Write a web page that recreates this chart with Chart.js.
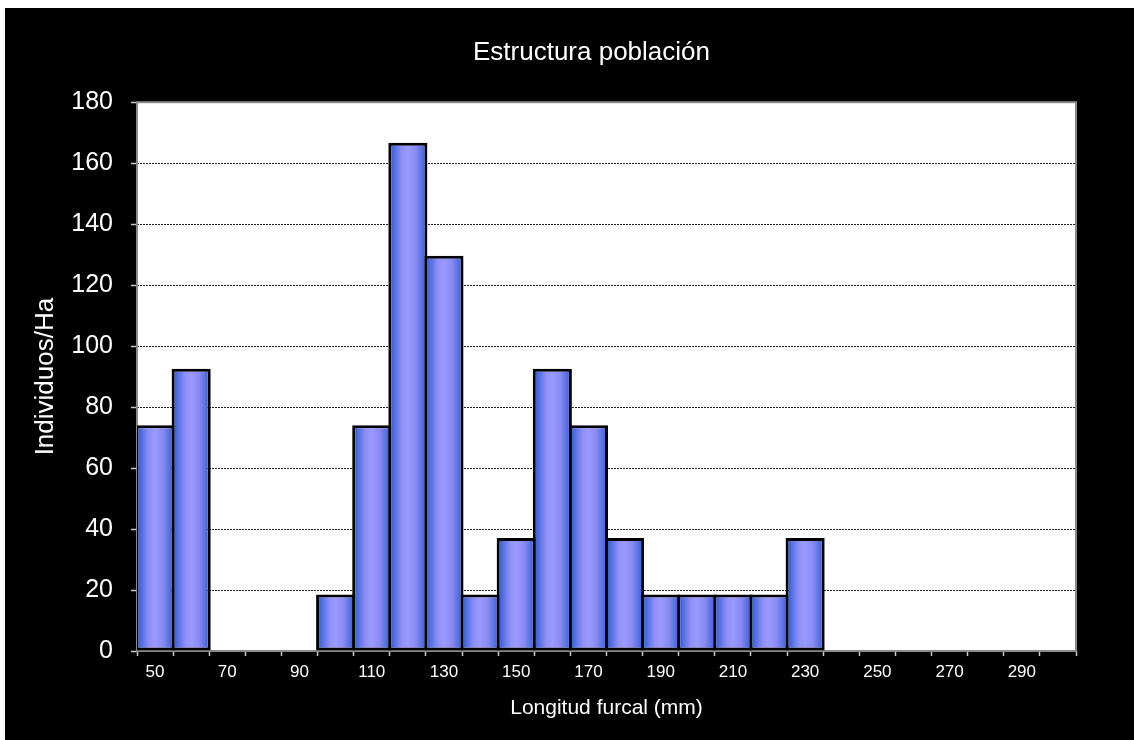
<!DOCTYPE html>
<html lang="es">
<head>
<meta charset="utf-8">
<title>Estructura población</title>
<script src="https://cdn.jsdelivr.net/npm/chart.js@4.4.0/dist/chart.umd.min.js"></script>
<style>
  html, body { margin: 0; padding: 0; background: #fff; }
  #chartBox {
    position: absolute;
    left: 5px;
    top: 8px;
    width: 1129px;
    height: 732px;
    background: #000;
  }
</style>
</head>
<body>
<div id="chartBox"><canvas id="poblacionChart"></canvas></div>
<script>
// ===== DATOS =====
const categories = ['50', '60', '70', '80', '90', '100', '110', '120', '130', '140', '150', '160', '170',
  '180', '190', '200', '210', '220', '230', '240', '250', '260', '270', '280', '290', '300'];
const individuosHa = [74.07, 92.59, 0, 0, 0, 18.52, 74.07, 166.67, 129.63, 18.52, 37.04, 92.59, 74.07,
  37.04, 18.52, 18.52, 18.52, 18.52, 37.04, 0, 0, 0, 0, 0, 0, 0];
const yTicks = [0, 20, 40, 60, 80, 100, 120, 140, 160, 180];

const FONT = 'Arial, "Liberation Sans", sans-serif';

class EstructuraPoblacion {
  constructor() {
    this.chart = null;
    this.init();
  }

  init() {
    const ctx = document.getElementById('poblacionChart').getContext('2d');
    this.chart = new Chart(ctx, {
      type: 'bar',
      data: {
        labels: categories,
        datasets: [{
          label: 'Individuos/Ha',
          data: individuosHa,
          yAxisID: 'y',
          backgroundColor: (c) => this.barGradient(c),
          borderColor: '#000',
          borderWidth: (c) => (c.raw > 0 ? 3 : 0),
          borderSkipped: false,
          barPercentage: 1.083,
          categoryPercentage: 1
        }]
      },
      options: {
        responsive: true,
        maintainAspectRatio: false,
        animation: false,
        layout: { padding: { left: 60, right: 16, top: 0, bottom: 15 } },
        plugins: {
          legend: { display: false },
          tooltip: { enabled: false },
          title: {
            display: true,
            text: 'Estructura población',
            color: '#fff',
            font: { family: FONT, size: 26, weight: 'normal' },
            padding: { top: 29, bottom: 34 }
          }
        },
        scales: {
          x: {
            offset: true,
            grid: { display: true, drawOnChartArea: false, tickLength: 5, tickColor: '#c8c8c8', tickWidth: 1.5 },
            border: { display: false },
            ticks: {
              color: '#fff',
              font: { family: FONT, size: 17 },
              padding: 6,
              autoSkip: false,
              maxRotation: 0,
              callback: (val, index) => (index % 2 === 0 ? categories[index] : '')
            },
            title: {
              display: true,
              text: 'Longitud furcal (mm)',
              color: '#fff',
              font: { family: FONT, size: 21 },
              padding: { top: 0, bottom: 4 }
            },
            afterFit: (scale) => { scale.height = 74; }
          },
          y: {
            position: 'left',
            min: 0,
            max: 180,
            afterBuildTicks: (scale) => { scale.ticks = yTicks.map(v => ({ value: v })); },
            grid: {
              color: (c) => (c.tick && (c.tick.value === 0 || c.tick.value === 180) ? 'rgba(0,0,0,0)' : '#222'),
              lineWidth: 1,
              tickLength: 6,
              tickColor: '#c8c8c8',
              tickWidth: 1.5
            },
            border: { display: false, dash: [2, 1] },
            ticks: {
              color: '#fff',
              font: { family: FONT, size: 25 },
              padding: 18
            },
            title: {
              display: true,
              text: 'Individuos/Ha',
              color: '#fff',
              font: { family: FONT, size: 26 },
              padding: { top: -35, bottom: 0 }
            },
            afterFit: (scale) => { scale.width = 72; }
          },
          // margen derecho vacío: deja el título centrado donde está en el original
          margenDer: {
            position: 'right',
            min: 0,
            max: 180,
            grid: { display: false },
            border: { display: false },
            ticks: { display: false },
            afterFit: (scale) => { scale.width = 42; }
          }
        }
      },
      plugins: [this.plotFrame()]
    });
  }

  // degradado horizontal de cada barra, oscuro en los bordes y claro al centro
  barGradient(c) {
    const chart = c.chart;
    const xScale = chart.scales.x;
    if (!chart.chartArea || !xScale || c.dataIndex === undefined) return '#9999ff';
    const cx = xScale.getPixelForValue(c.dataIndex);
    const w = xScale.width / categories.length;
    const g = chart.ctx.createLinearGradient(cx - w / 2, 0, cx + w / 2, 0);
    g.addColorStop(0, '#2c5ad4');
    g.addColorStop(0.33, '#8f8ff7');
    g.addColorStop(0.5, '#9a9aff');
    g.addColorStop(0.72, '#8a8af2');
    g.addColorStop(1, '#3662d6');
    return g;
  }

  plotFrame() {
    return {
      id: 'plotFrame',
      beforeDraw(chart) {
        const { ctx, chartArea: a } = chart;
        ctx.save();
        ctx.fillStyle = '#fff';
        ctx.fillRect(a.left, a.top, a.right - a.left, a.bottom - a.top);
        ctx.restore();
      },
      beforeDatasetsDraw(chart) {
        const { ctx, chartArea: a } = chart;
        ctx.save();
        ctx.strokeStyle = '#8a8a8a';
        ctx.lineWidth = 2;
        ctx.strokeRect(a.left, a.top, a.right - a.left, a.bottom - a.top);
        ctx.restore();
      }
    };
  }
}

document.addEventListener('DOMContentLoaded', () => {
  new EstructuraPoblacion();
});
</script>
</body>
</html>
